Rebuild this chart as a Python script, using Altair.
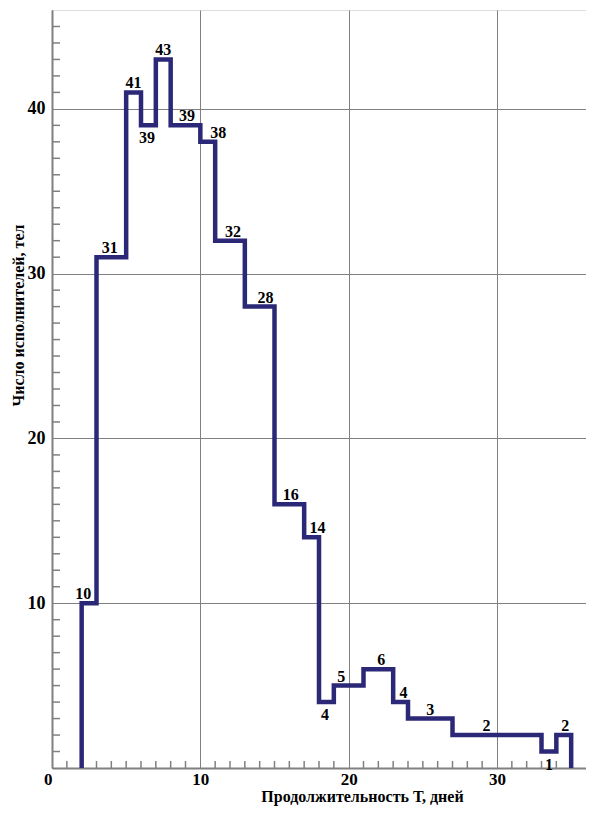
import altair as alt
import pandas as pd

# --- data ---
bin_starts = [2, 3, 5, 6, 7, 8, 10, 11, 13, 15, 17, 18, 19, 21, 23, 24, 27, 33, 34]
bin_counts = [10, 31, 41, 39, 43, 39, 38, 32, 28, 16, 14, 4, 5, 6, 4, 3, 2, 1, 2]
last_edge = 35

label_text = ["10", "31", "41", "39", "43", "39", "38", "32", "28", "16", "14",
              "4", "5", "6", "4", "3", "2", "1", "2"]
label_x = [2.1, 3.9, 5.5, 6.4, 7.5, 9.1, 11.2, 12.2, 14.4, 16.1, 17.9,
           18.4, 19.5, 22.2, 23.7, 25.5, 29.3, 33.5, 34.6]
label_y = [10, 31, 41, 39, 43, 39, 38, 32, 28, 16, 14, 4, 5, 6, 4, 3, 2, 1, 2]
label_side = ["above", "above", "above", "below", "above", "above", "above", "above",
              "above", "above", "above", "below", "above", "above", "above", "above",
              "above", "below", "above"]

x_major = [0, 10, 20, 30]
y_major = [10, 20, 30, 40]
x_minor = [v for v in range(1, 36) if v % 10 != 0]
y_minor = [v for v in range(1, 46) if v % 10 != 0]

X_DOMAIN = [0, 36]
Y_DOMAIN = [0, 46]

W, H = 534, 758
LINE_COLOR = "#2c2878"
GRAY = "#808080"
FONT = "Liberation Serif"

# step outline vertices
vx = [bin_starts[0]] + bin_starts + [last_edge, last_edge]
vy = [0] + bin_counts + [bin_counts[-1], 0]
steps = pd.DataFrame({"x": vx, "y": vy, "i": list(range(len(vx)))})

labels = pd.DataFrame({"x": label_x, "y": label_y, "t": label_text, "side": label_side})
xm = pd.DataFrame({"x": x_minor})
ym = pd.DataFrame({"y": y_minor})

xscale = alt.Scale(domain=X_DOMAIN, nice=False, zero=False)
yscale = alt.Scale(domain=Y_DOMAIN, nice=False, zero=False)

xaxis = alt.Axis(
    values=x_major, grid=True, gridColor=GRAY, gridWidth=1,
    domainColor=GRAY, domainWidth=2, ticks=False,
    labelFont=FONT, labelFontWeight="bold", labelFontSize=17, labelColor="black",
    labelPadding=3,
    labelAlign={"condition": {"test": "datum.value == 0", "value": "right"}, "value": "center"},
    title="Продолжительность Т, дней", titleFont=FONT, titleFontWeight="bold",
    titleFontSize=16, titleColor="black", titleX=310, titleY=28,
    titleBaseline="middle", titleAlign="center",
)
yaxis = alt.Axis(
    values=y_major, grid=True, gridColor=GRAY, gridWidth=1,
    domainColor=GRAY, domainWidth=2, ticks=False,
    labelFont=FONT, labelFontWeight="bold", labelFontSize=18, labelColor="black",
    labelPadding=7,
    title="Число исполнителей, тел", titleFont=FONT, titleFontWeight="bold",
    titleFontSize=16, titleColor="black", titleX=-34, titleY=305,
    titleBaseline="middle", titleAlign="center", titleAngle=-90,
)

base_x = alt.X("x:Q", scale=xscale, axis=xaxis)
base_y = alt.Y("y:Q", scale=yscale, axis=yaxis)

line = alt.Chart(steps).mark_line(
    interpolate="step-after", color=LINE_COLOR, strokeWidth=4.5, strokeJoin="miter"
).encode(x=base_x, y=base_y, order="i:Q")

xticks = alt.Chart(xm).mark_rule(color=GRAY, strokeWidth=1.5).encode(
    x=alt.X("x:Q", scale=xscale), y=alt.value(H), y2=alt.value(H - 7)
)
yticks = alt.Chart(ym).mark_rule(color=GRAY, strokeWidth=1.5).encode(
    y=alt.Y("y:Q", scale=yscale), x=alt.value(0), x2=alt.value(8)
)

above = alt.Chart(labels).transform_filter("datum.side == 'above'").mark_text(
    font=FONT, fontWeight="bold", fontSize=16, color="black",
    baseline="alphabetic", align="center", dy=-4
).encode(x=alt.X("x:Q", scale=xscale), y=alt.Y("y:Q", scale=yscale), text="t:N")

below = alt.Chart(labels).transform_filter("datum.side == 'below'").mark_text(
    font=FONT, fontWeight="bold", fontSize=16, color="black",
    baseline="top", align="center", dy=5
).encode(x=alt.X("x:Q", scale=xscale), y=alt.Y("y:Q", scale=yscale), text="t:N")

chart = alt.layer(xticks, yticks, line, above, below).properties(
    width=W, height=H,
    autosize=alt.AutoSizeParams(type="none"),
    padding={"left": 44, "top": 2, "right": 0, "bottom": 40},
).configure_view(stroke=GRAY, strokeWidth=1.5).configure(background="white")

chart.save("out.html", embed_options={"renderer": "svg", "actions": False})
